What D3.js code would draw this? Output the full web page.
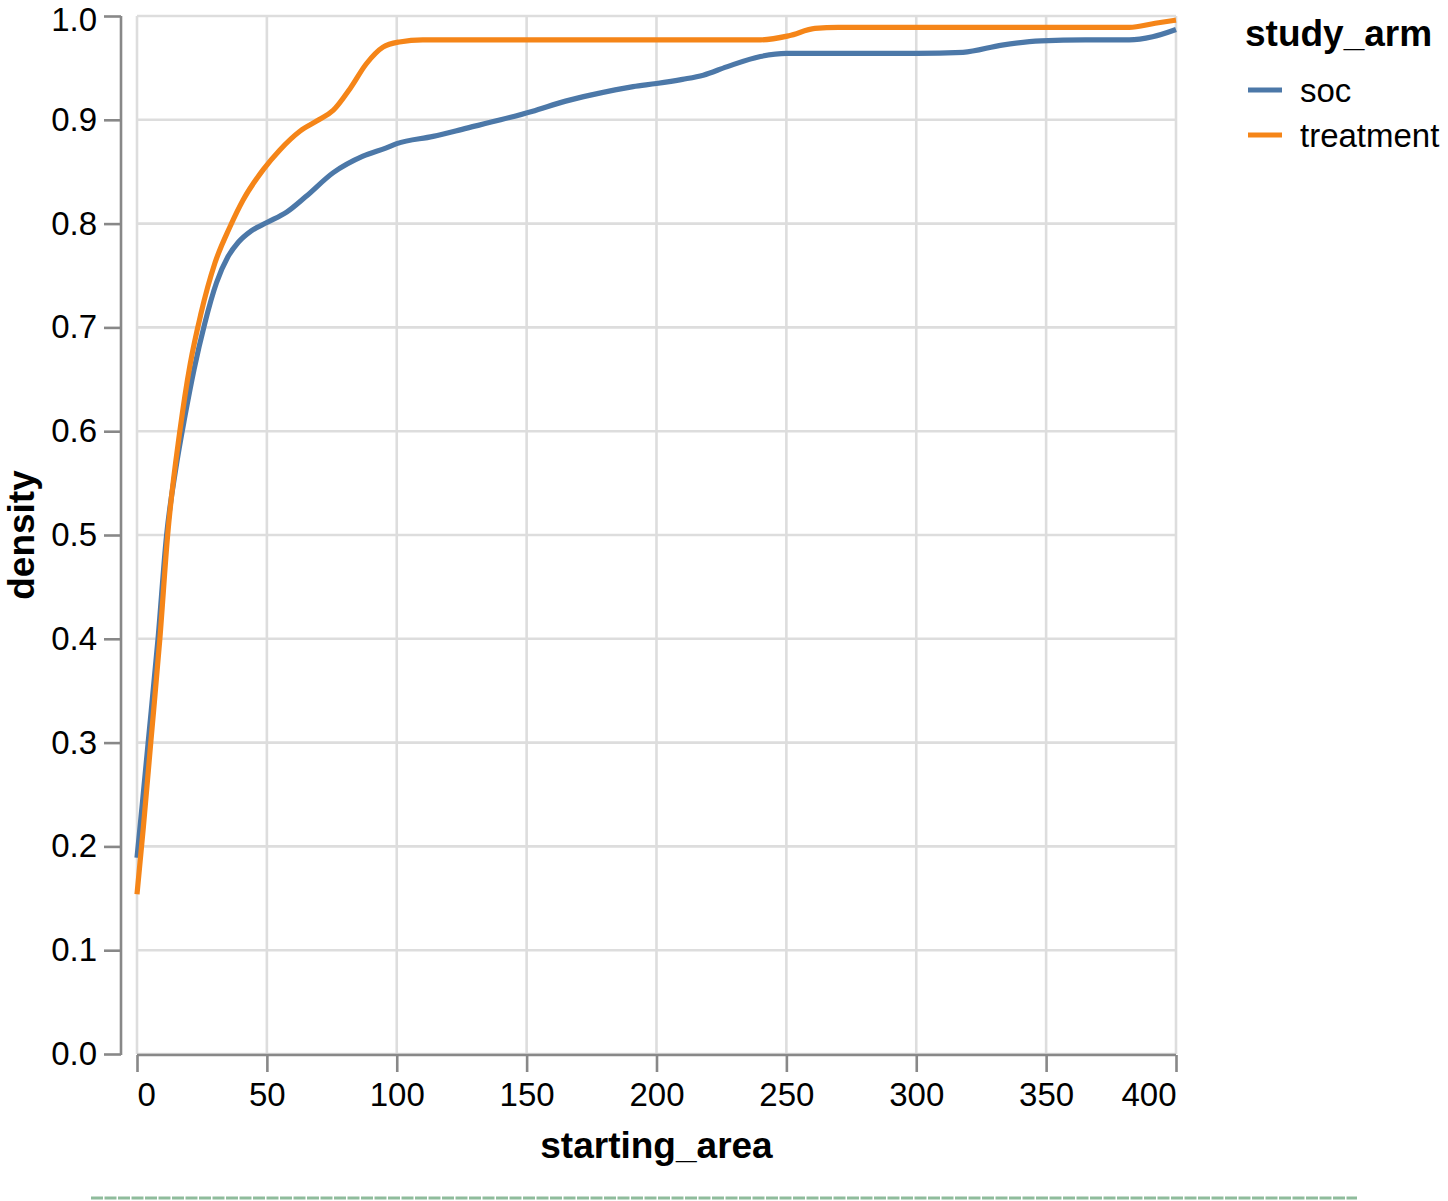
<!DOCTYPE html>
<html>
<head>
<meta charset="utf-8">
<script src="https://cdn.jsdelivr.net/npm/d3@7"></script>
<style>
  html, body { margin: 0; padding: 0; background: #fff; }
  svg { display: block; }
  text { font-family: "Liberation Sans", Arial, Helvetica, sans-serif; fill: #000; }
</style>
</head>
<body>
<svg id="chart" width="1448" height="1201"></svg>
<script>
// ---- data ----
const seriesNames = ["soc", "treatment"];
const seriesColors = ["#4c78a8", "#f58518"];

const socX = [0, 2, 4.3, 8.1, 11.4, 15, 18.5, 22, 26, 30.6, 35, 39, 44, 50, 57.6, 65, 75.5, 87, 96, 100, 114, 127, 140, 152, 165, 175, 191, 200, 210, 218, 227, 240, 250, 300, 318, 333, 348, 365, 382, 391, 400];
const socY = [0.189, 0.24, 0.30, 0.40, 0.50, 0.565, 0.615, 0.66, 0.703, 0.743, 0.768, 0.782, 0.793, 0.801, 0.811, 0.826, 0.849, 0.865, 0.873, 0.877, 0.884, 0.892, 0.900, 0.908, 0.918, 0.924, 0.932, 0.935, 0.939, 0.943, 0.951, 0.961, 0.964, 0.964, 0.965, 0.972, 0.976, 0.977, 0.977, 0.980, 0.987];

const trtX = [0, 2.5, 5.3, 8.8, 11.8, 16.5, 20.5, 24.5, 30, 35.8, 40.9, 48.6, 55, 62.7, 70, 75.5, 82, 88.3, 94.7, 101, 110, 240, 251, 261, 270, 382, 392, 400];
const trtY = [0.154, 0.22, 0.30, 0.40, 0.50, 0.60, 0.665, 0.712, 0.762, 0.797, 0.823, 0.852, 0.871, 0.889, 0.900, 0.909, 0.930, 0.954, 0.970, 0.975, 0.977, 0.977, 0.981, 0.988, 0.989, 0.989, 0.993, 0.996];

const xTicks = [0, 50, 100, 150, 200, 250, 300, 350, 400];
const yTicks = [0.0, 0.1, 0.2, 0.3, 0.4, 0.5, 0.6, 0.7, 0.8, 0.9, 1.0];

// ---- layout ----
const plot = { left: 137, right: 1176, top: 16, bottom: 1054 };
const svg = d3.select("#chart");
const labelSize = 33, titleSize = 37;

const x = d3.scaleLinear().domain([0, 400]).range([plot.left, plot.right]);
const y = d3.scaleLinear().domain([0, 1]).range([plot.bottom, plot.top]);

// grid
const grid = svg.append("g");
grid.selectAll(".gx").data(xTicks).enter().append("line")
  .attr("x1", d => x(d)).attr("x2", d => x(d))
  .attr("y1", plot.top).attr("y2", plot.bottom)
  .attr("stroke", "#ddd").attr("stroke-width", 2.6);
grid.selectAll(".gy").data(yTicks).enter().append("line")
  .attr("x1", plot.left).attr("x2", plot.right)
  .attr("y1", d => y(d)).attr("y2", d => y(d))
  .attr("stroke", "#ddd").attr("stroke-width", 2.6);

// x axis
const xAxis = d3.axisBottom(x).tickValues(xTicks).tickSize(17).tickPadding(11).tickFormat(d3.format("d"));
const gx = svg.append("g").attr("transform", `translate(0,${plot.bottom + 1})`).call(xAxis);
gx.select(".domain").attr("stroke", "#888").attr("stroke-width", 2.6).attr("d", `M${plot.left},0H${plot.right}`);
gx.selectAll(".tick line").attr("stroke", "#888").attr("stroke-width", 2.6);
gx.selectAll(".tick text").attr("font-size", labelSize).attr("fill", "#000")
  .attr("font-family", "Liberation Sans, Arial, sans-serif")
  .attr("text-anchor", (d, i) => i === 0 ? "start" : (i === xTicks.length - 1 ? "end" : "middle"));

// y axis (offset)
const yAxis = d3.axisLeft(y).tickValues(yTicks).tickSize(17).tickPadding(7).tickFormat(d3.format(".1f"));
const gy = svg.append("g").attr("transform", `translate(121,0)`).call(yAxis);
gy.select(".domain").attr("stroke", "#888").attr("stroke-width", 2.6).attr("d", `M0,${plot.top}V${plot.bottom + 1}`);
gy.selectAll(".tick line").attr("stroke", "#888").attr("stroke-width", 2.6);
gy.selectAll(".tick text").attr("font-size", labelSize).attr("fill", "#000")
  .attr("font-family", "Liberation Sans, Arial, sans-serif")
  .attr("y", d => d === 1 ? 3.5 : 0);

// titles
svg.append("text").attr("x", (plot.left + plot.right) / 2).attr("y", 1158)
  .attr("text-anchor", "middle").attr("font-size", titleSize).attr("font-weight", "bold").text("starting_area");
svg.append("text").attr("transform", `translate(34,${(plot.top + plot.bottom) / 2}) rotate(-90)`)
  .attr("text-anchor", "middle").attr("font-size", titleSize).attr("font-weight", "bold").text("density");

// lines
const seriesData = [
  socX.map((v, i) => [v, socY[i]]),
  trtX.map((v, i) => [v, trtY[i]])
];
const line = d3.line().x(d => x(d[0])).y(d => y(d[1])).curve(d3.curveMonotoneX);
svg.append("g").selectAll("path").data(seriesData).enter().append("path")
  .attr("d", line).attr("fill", "none")
  .attr("stroke", (d, i) => seriesColors[i]).attr("stroke-width", 5.2)
  .attr("stroke-linejoin", "round").attr("stroke-linecap", "butt");

// legend
const lg = svg.append("g");
lg.append("text").attr("x", 1245).attr("y", 46).attr("font-size", titleSize).attr("font-weight", "bold").text("study_arm");
seriesNames.forEach((name, i) => {
  const cy = 90 + i * 45;
  lg.append("line").attr("x1", 1248).attr("x2", 1282).attr("y1", cy).attr("y2", cy)
    .attr("stroke", seriesColors[i]).attr("stroke-width", 5.2);
  lg.append("text").attr("x", 1300).attr("y", cy).attr("dy", "0.35em").attr("font-size", labelSize).text(name);
});

// bottom dashed rule
svg.append("line").attr("x1", 91).attr("x2", 1357).attr("y1", 1198).attr("y2", 1198)
  .attr("stroke", "#8fbc9c").attr("stroke-width", 3).attr("stroke-dasharray", "12,1.5");
</script>
</body>
</html>
